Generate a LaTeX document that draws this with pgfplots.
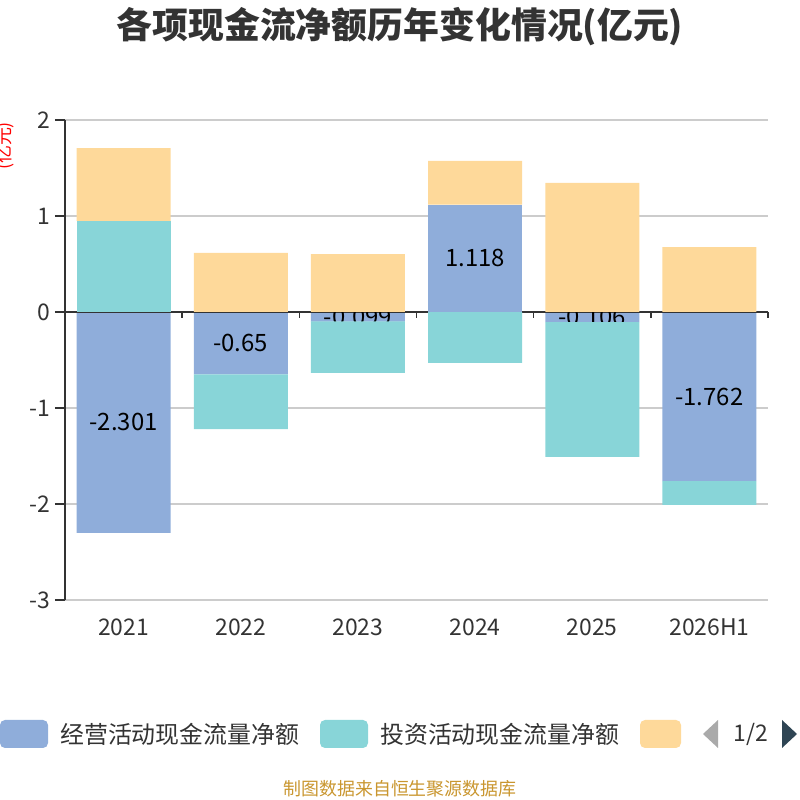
\documentclass[border=0pt]{standalone}
\usepackage{fontspec}
\setmainfont{Noto Sans CJK SC}
\usepackage{pgfplots}
\pgfplotsset{compat=1.18}
\definecolor{cblue}{RGB}{143,173,218}
\definecolor{cteal}{RGB}{136,213,216}
\definecolor{cyel}{RGB}{254,217,154}
\definecolor{axc}{RGB}{51,51,51}
\definecolor{gridc}{RGB}{204,204,204}
\definecolor{foot}{RGB}{201,150,47}
\definecolor{navr}{RGB}{47,69,84}
\definecolor{navl}{RGB}{170,170,170}
\pgfplotsset{
  base/.style={
    scale only axis, width=703bp, height=480bp,
    at={(65bp,200bp)}, anchor=south west,
    xmin=-0.5, xmax=5.5, ymin=-3, ymax=2,
    clip=false,
  },
  bare/.style={base, axis lines=none, xtick=\empty, ytick=\empty},
}
\begin{document}
\begin{tikzpicture}
\path[use as bounding box] (0,0) rectangle (800bp,800bp);
% background axis + negative blue
\begin{axis}[base, ybar stacked, bar width=94bp,
  axis lines*=left,
  x axis line style={draw=none},
  xtick style={draw=none},
  y axis line style={axc, line width=1.4bp},
  ytick style={axc, line width=1.4bp},
  major tick length=10bp,
  tick align=outside,
  ymajorgrids,
  grid style={gridc, line width=1.2bp},
  ytick={-3,-2,-1,0,1,2},
  xtick={0,1,2,3,4,5},
  xticklabels={2021,2022,2023,2024,2025,2026H1},
  tick label style={font=\fontsize{23}{23}\selectfont, text=axc},
  xticklabel style={yshift=-5bp},
  yticklabel style={xshift=-1bp},
  /pgf/number format/assume math mode=true,
]
\draw[axc, line width=1.4bp] (axis cs:-0.5,0) -- (axis cs:5.5,0);
\pgfplotsinvokeforeach{-0.5,0.5,1.5,2.5,3.5,4.5,5.5}{\draw[axc, line width=1.4bp] (axis cs:#1,0) -- ([yshift=-6bp]axis cs:#1,0);}
\addplot[fill=cblue, draw=none] coordinates {(0,-2.301) (1,-0.65) (2,-0.099) (3,0) (4,-0.106) (5,-1.762)};
\end{axis}
% value labels (placed at the middle of each blue segment)
\begin{axis}[bare]
\addplot[draw=none, nodes near coords, point meta=explicit symbolic,
  every node near coord/.append style={anchor=center, font=\fontsize{24}{24}\selectfont, text=black}]
  coordinates {(0,-1.1505) [-2.301] (1,-0.325) [-0.65] (2,-0.0495) [-0.099] (4,-0.053) [-0.106] (5,-0.881) [-1.762]};
\end{axis}
% negative teal stacked on blue
\begin{axis}[bare, ybar stacked, bar width=94bp]
\addplot[fill=none, draw=none] coordinates {(0,-2.301) (1,-0.65) (2,-0.099) (3,0) (4,-0.106) (5,-1.762)};
\addplot[fill=cteal, draw=none] coordinates {(0,0) (1,-0.57) (2,-0.536) (3,-0.53) (4,-1.404) (5,-0.248)};
\end{axis}
% positive stack
\begin{axis}[bare, ybar stacked, bar width=94bp]
\addplot[fill=cblue, draw=none] coordinates {(0,0) (1,0) (2,0) (3,1.118) (4,0) (5,0)};
\addplot[fill=cteal, draw=none] coordinates {(0,0.948) (1,0) (2,0) (3,0) (4,0) (5,0)};
\addplot[fill=cyel, draw=none] coordinates {(0,0.76) (1,0.615) (2,0.604) (3,0.455) (4,1.344) (5,0.677)};
\end{axis}
% label of positive blue bar on top
\begin{axis}[bare]
\addplot[draw=none, nodes near coords, point meta=explicit symbolic,
  every node near coord/.append style={anchor=center, font=\fontsize{24}{24}\selectfont, text=black}]
  coordinates {(3,0.559) [1.118]};
\end{axis}
% title
\node[font=\fontsize{36}{36}\selectfont\bfseries, text=axc] at (400bp,773bp) {各项现金流净额历年变化情况(亿元)};
% y unit
\node[font=\fontsize{18}{18}\selectfont, text=red, rotate=90] at (5bp,654bp) {(亿元)};
% legend
\fill[cblue, rounded corners=5bp] (0bp,52bp) rectangle (48bp,80bp);
\node[anchor=west, font=\fontsize{24}{24}\selectfont, text=axc, inner sep=0pt] at (60bp,66bp) {经营活动现金流量净额};
\fill[cteal, rounded corners=5bp] (320bp,52bp) rectangle (368bp,80bp);
\node[anchor=west, font=\fontsize{24}{24}\selectfont, text=axc, inner sep=0pt] at (380bp,66bp) {投资活动现金流量净额};
\fill[cyel, rounded corners=5bp] (640bp,52bp) rectangle (681bp,80bp);
\fill[navl] (703bp,66bp) -- (718bp,80bp) -- (718bp,52bp) -- cycle;
\node[font=\fontsize{23}{23}\selectfont, text=axc] at (751bp,66bp) {1/2};
\fill[navr] (782bp,80bp) -- (782bp,52bp) -- (797bp,66bp) -- cycle;
% footer
\node[font=\fontsize{18}{18}\selectfont, text=foot] at (400bp,11bp) {制图数据来自恒生聚源数据库};
\end{tikzpicture}
\end{document}
